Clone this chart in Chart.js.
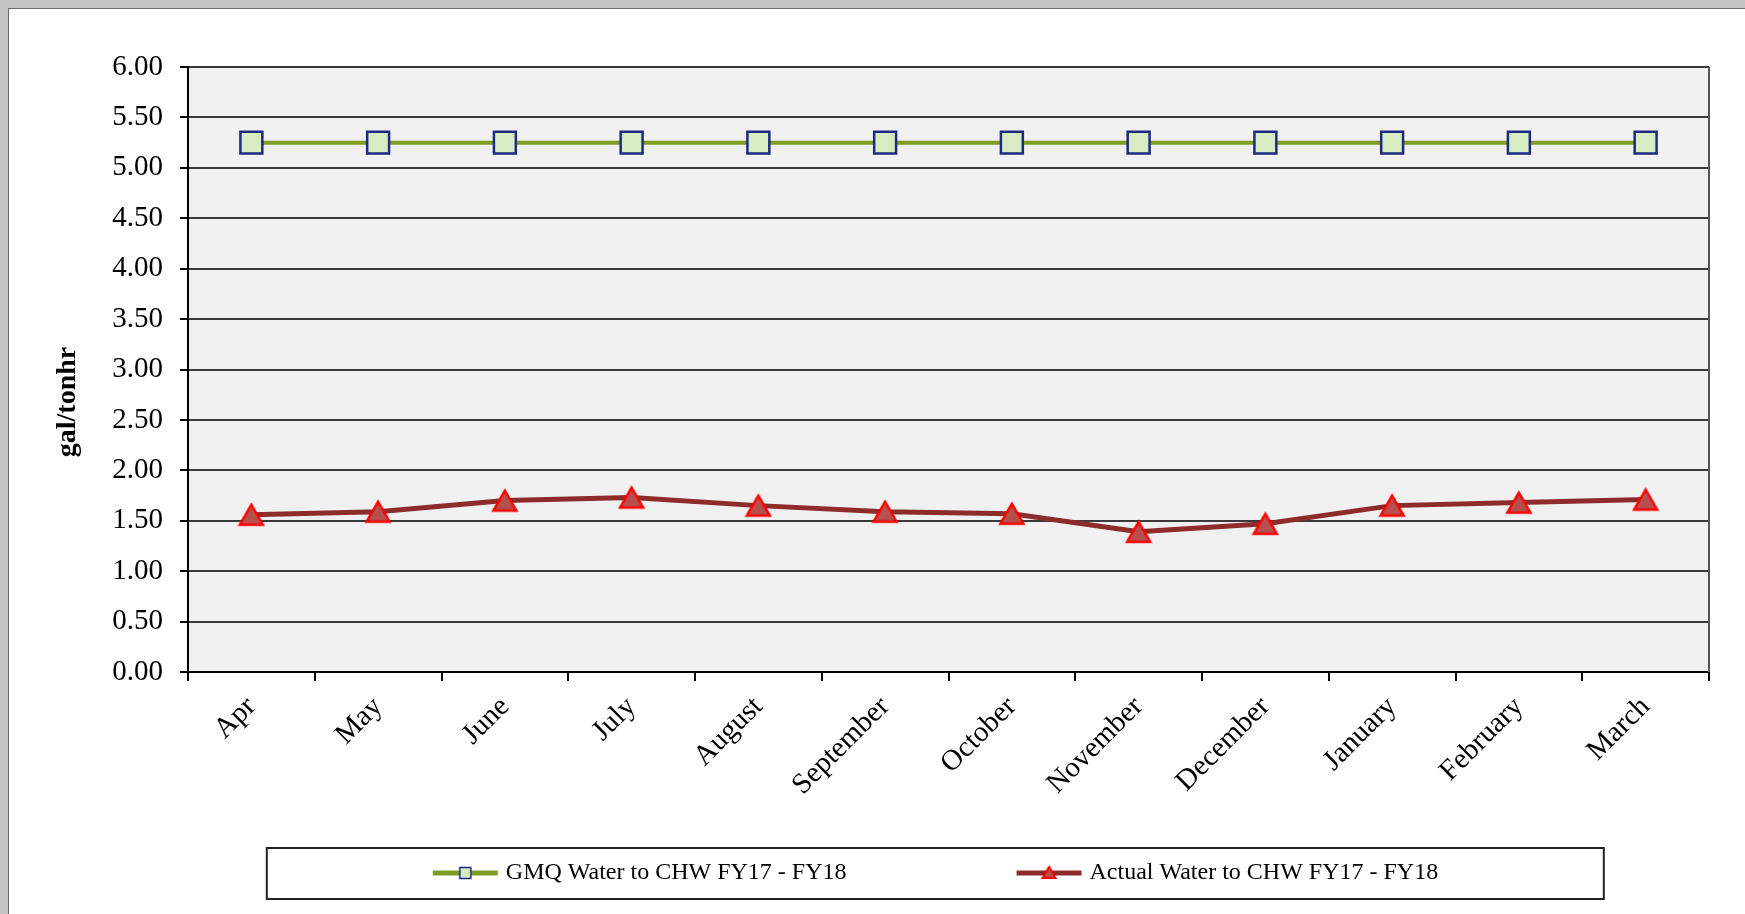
<!DOCTYPE html>
<html><head><meta charset="utf-8">
<script src="https://cdn.jsdelivr.net/npm/chart.js@4"></script>
<style>
html,body{margin:0;padding:0;background:#c3c3c3;width:1745px;height:914px;overflow:hidden}
#frame{position:absolute;left:8px;top:8px;width:1737px;height:906px;background:#fff;border-left:1px solid #6a6a6a;border-top:1px solid #6a6a6a;}
#c{position:absolute;left:0;top:0}
</style></head><body>
<div id="frame"><canvas id="c" width="1736" height="905"></canvas></div>
<script>
const categories = ['Apr','May','June','July','August','September','October','November','December','January','February','March'];
const gmqValues = [5.25,5.25,5.25,5.25,5.25,5.25,5.25,5.25,5.25,5.25,5.25,5.25];
const actualValues = [1.56,1.59,1.70,1.73,1.65,1.59,1.57,1.39,1.47,1.65,1.68,1.71];
const seriesNames = ['GMQ Water to CHW FY17 - FY18','Actual Water to CHW FY17 - FY18'];
const yTickLabels = ['0.00','0.50','1.00','1.50','2.00','2.50','3.00','3.50','4.00','4.50','5.00','5.50','6.00'];
const yAxisTitle = 'gal/tonhr';

const SERIF = "'Liberation Serif', 'Times New Roman', serif";
const GMQ_LINE = '#7f9c24', GMQ_FILL = '#d8ecc4', GMQ_EDGE = '#1c2a80';
const ACT_LINE = '#8e2b2b', ACT_FILL = '#b5504d', ACT_EDGE = '#ff0000';
const SYM_W = 214;

function makeSymbol(kind) {
  const c = document.createElement('canvas');
  const W = SYM_W + 16;
  c.width = W; c.height = 24;
  const g = c.getContext('2d');
  const x1 = W - 4, x0 = x1 - 65, cy = 12, cx = (x0 + x1) / 2;
  g.lineWidth = 5;
  g.strokeStyle = kind === 'gmq' ? GMQ_LINE : ACT_LINE;
  g.beginPath(); g.moveTo(x0, cy); g.lineTo(x1, cy); g.stroke();
  if (kind === 'gmq') {
    g.fillStyle = GMQ_FILL; g.fillRect(cx - 5.5, cy - 5.5, 11, 11);
    g.lineWidth = 1.5; g.strokeStyle = GMQ_EDGE; g.strokeRect(cx - 5.5, cy - 5.5, 11, 11);
  } else {
    g.beginPath(); g.moveTo(cx, cy - 6); g.lineTo(cx + 6.5, cy + 5); g.lineTo(cx - 6.5, cy + 5); g.closePath();
    g.fillStyle = ACT_FILL; g.fill();
    g.lineWidth = 2; g.strokeStyle = ACT_EDGE; g.stroke();
  }
  return c;
}
const legendSymbols = [makeSymbol('gmq'), makeSymbol('act')];

// triangle marker whose bounding box is centred on the data point
function makeTriangleMarker() {
  const c = document.createElement('canvas');
  c.width = 28; c.height = 26;
  const g = c.getContext('2d');
  g.beginPath(); g.moveTo(14, 3); g.lineTo(25.5, 23); g.lineTo(2.5, 23); g.closePath();
  g.fillStyle = ACT_FILL; g.fill();
  g.lineWidth = 2.5; g.lineJoin = 'miter'; g.strokeStyle = ACT_EDGE; g.stroke();
  return c;
}
const triangleMarker = makeTriangleMarker();

const framePlugin = {
  id: 'framePlugin',
  beforeDraw(chart) {
    const {ctx, chartArea: a} = chart;
    ctx.save();
    ctx.fillStyle = '#f1f1f1';
    ctx.fillRect(a.left, a.top, a.right - a.left, a.bottom - a.top);
    ctx.restore();
  },
  beforeDatasetsDraw(chart) {
    const {ctx, chartArea: a} = chart;
    ctx.save();
    ctx.strokeStyle = '#555';
    ctx.lineWidth = 2;
    ctx.beginPath(); ctx.moveTo(a.right, a.top); ctx.lineTo(a.right, a.bottom); ctx.stroke();
    ctx.restore();
  },
  afterDraw(chart) {
    const {ctx} = chart;
    // y axis title
    ctx.save();
    ctx.translate(59, 393);
    ctx.rotate(-Math.PI / 2);
    ctx.font = "bold 28px " + SERIF;
    ctx.fillStyle = '#000';
    ctx.textAlign = 'center';
    ctx.textBaseline = 'middle';
    ctx.fillText(yAxisTitle, 0, 0);
    ctx.restore();
    // legend frame
    const lg = chart.legend;
    if (!lg || !lg.legendHitBoxes || !lg.legendHitBoxes.length) return;
    const hb = lg.legendHitBoxes;
    const left = hb[0].left - 13;
    ctx.save();
    ctx.strokeStyle = '#222';
    ctx.lineWidth = 2;
    ctx.strokeRect(left, lg.top + 4, 1337, 51);
    ctx.restore();
  }
};

new Chart(document.getElementById('c'), {
  type: 'line',
  data: {
    labels: categories,
    datasets: [
      {label: seriesNames[0], data: gmqValues, borderColor: GMQ_LINE, borderWidth: 4, tension: 0, fill: false,
       pointStyle: 'rect', pointRadius: 15.5, pointBackgroundColor: GMQ_FILL, pointBorderColor: GMQ_EDGE, pointBorderWidth: 2.5},
      {label: seriesNames[1], data: actualValues, borderColor: ACT_LINE, borderWidth: 5, tension: 0, fill: false,
       pointStyle: triangleMarker, pointRadius: 13, pointBackgroundColor: ACT_FILL, pointBorderColor: ACT_EDGE, pointBorderWidth: 2.5}
    ]
  },
  options: {
    responsive: false, animation: false, devicePixelRatio: 1,
    layout: {padding: {left: 0, top: 58, right: 36, bottom: 19}},
    plugins: {
      legend: {
        position: 'bottom',
        labels: {
          usePointStyle: true, pointStyleWidth: SYM_W, padding: 17, color: '#000',
          font: {family: SERIF, size: 24},
          generateLabels(chart) {
            const items = Chart.defaults.plugins.legend.labels.generateLabels(chart);
            items.forEach((it, i) => { it.pointStyle = legendSymbols[i]; it.fontColor = '#000'; });
            return items;
          }
        }
      },
      tooltip: {enabled: false}
    },
    scales: {
      x: {
        offset: true,
        grid: {offset: true, drawOnChartArea: false, drawTicks: true, tickLength: 9, tickColor: '#000', lineWidth: 2},
        border: {color: '#000', width: 2},
        ticks: {maxRotation: 45, minRotation: 45, autoSkip: false, color: '#000', font: {family: SERIF, size: 29}, padding: 9},
        afterFit(s) { s.height = 172; }
      },
      y: {
        min: 0, max: 6,
        afterBuildTicks(s) { s.ticks = yTickLabels.map(t => ({value: parseFloat(t)})); },
        grid: {color: '#3a3a3a', lineWidth: 2, tickLength: 8, tickColor: '#000'},
        border: {color: '#000', width: 2},
        ticks: {padding: 17, color: '#000', font: {family: SERIF, size: 29}, callback: (v, i) => yTickLabels[i]},
        title: {display: false, text: yAxisTitle},
        afterFit(s) { s.width = 179; }
      }
    }
  },
  plugins: [framePlugin]
});
</script>
</body></html>
